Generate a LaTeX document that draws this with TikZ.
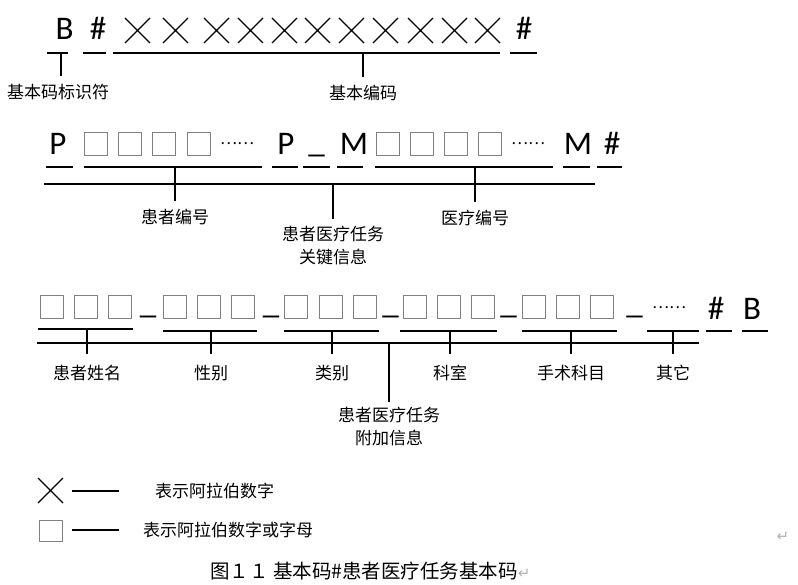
\documentclass[tikz,border=0pt]{standalone}
\usepackage{fontspec}
\setmainfont{Carlito}
\newfontfamily\cjk{Noto Sans CJK SC}
\newfontfamily\dejavu{DejaVu Sans}
\usetikzlibrary{calc,positioning}

\tikzset{
  lat/.style={font=\fontsize{33}{33}\selectfont,inner sep=0pt,anchor=base},
  lab/.style={font=\cjk\fontsize{17}{23}\selectfont,inner sep=0pt,align=center},
  dots/.style={font=\cjk\fontsize{16}{16}\selectfont,inner sep=0pt,anchor=west},
  cell/.style={draw=gray,line width=1pt},
  ul/.style={line width=1.8pt},
}

\begin{document}
\begin{tikzpicture}[x=1pt,y=-1pt,line join=round,line cap=butt]
\useasboundingbox (0,0) rectangle (798,585);
% row 1: basic code
\node[lat] (B1) at (64.5,40) {B};
\node[lat] (h1) at (98,40) {\#};
\node[lat] (h2) at (524,40) {\#};
\foreach \x in {125,163,204,238,272,305,339,373,408,442,475}{\draw[line width=1.2pt](\x,18)--++(25,25) (\x,43)--++(25,-25);}
\draw[ul](47,53)--(68,53) (83,53)--(106,53) (113,53)--(500,53) (510,53)--(537,53);
\coordinate (bt) at (61,53);
\coordinate (bb) at (61,76);
\coordinate (ct) at (363,53);
\coordinate (cb) at (363,77);
\draw[line width=1.4pt](bt)--(bb) (ct)--(cb);
\node[lab] (lb) at (58,92) {基本码标识符};
\node[lab] (lc) at (363,93) {基本编码};
% row 2: key information
\node[lat] (P1) at (58,155) {P};
\node[lat] (P2) at (286,155) {P};
\node[lat] (s0) at (316.5,153) {\_};
\node[lat] (M1) at (354,155) {M};
\node[lat] (M2) at (578,155) {M};
\node[lat] (h3) at (612,155) {\#};
\foreach \x in {84,118,152,187,376,410,444,478}{\draw[cell](\x,133) rectangle ++(23,23);}
\node[dots] (d1) at (220,144) {……};
\node[dots] (d2) at (511,144) {……};
\draw[ul](46,167)--(73,167) (84,167)--(262,167) (272,167)--(298,167) (303,167)--(330,167)
  (337,167)--(363,167) (375,167)--(553,167) (563,167)--(590,167) (597,167)--(622,167);
\draw[ul](44,184)--(595,184);
\foreach \n/\x/\a/\b/\y/\t in {p/175/167/201/217/患者编号,k/333/184/219/246/患者医疗任务\\关键信息,m/475/167/202/218/医疗编号}{
  \coordinate (\n t) at (\x,\a);
  \coordinate (\n b) at (\x,\b);
  \draw[line width=1.4pt](\n t)--(\n b);
  \node[lab] (l\n) at (\x,\y) {\t};}
% row 3: additional information
\foreach \x in {40,74,108,163,197,231,284,319,353,403,437,471,522,556,590}{\draw[cell](\x,296) rectangle ++(23,23);}
\foreach \x [count=\i] in {148,271,390.5,508.5,634.5}{\node[lat] (s\i) at (\x,314) {\_};}
\node[dots] (d3) at (652,308) {……};
\node[lat] (h4) at (716,320) {\#};
\node[lat] (B2) at (752,320) {B};
\draw[ul](38,329)--(133,329) (163,331)--(257,331) (284,331)--(379,331) (400,331)--(497,331)
  (522,331)--(617,331) (647,331)--(699,331) (706,331)--(732,331) (742,331)--(768,331);
\draw[ul](37,343)--(699,343);
\foreach \n/\x/\t in {a/87/患者姓名,b/211/性别,c/332/类别,d/450/科室,e/571/手术科目,f/673/其它}{
  \coordinate (\n t) at (\x,330);
  \coordinate (\n b) at (\x,354);
  \draw[line width=1.4pt](\n t)--(\n b);
  \node[lab] (l\n) at (\x,373) {\t};}
\coordinate (ft) at (389,343);
\coordinate (fb) at (389,402);
\draw[line width=1.4pt](ft)--(fb);
\node[lab] (lg) at (389,426.5) {患者医疗任务\\附加信息};
% legend
\draw[line width=1.2pt](38,478)--(63,503) (38,503)--(63,478);
\draw[cell](39,520) rectangle (62,541);
\coordinate (e1) at (72,491);
\coordinate (e2) at (119,491);
\coordinate (e3) at (72,530);
\coordinate (e4) at (119,530);
\draw[line width=1.2pt](e1)--(e2) (e3)--(e4);
\node[lab,anchor=west] (k1) at (155,491) {表示阿拉伯数字};
\node[lab,anchor=west] (k2) at (143,530) {表示阿拉伯数字或字母};
\node[font=\dejavu\fontsize{15}{15}\selectfont,text=gray!60,inner sep=0pt] (r1) at (783,537) {↵};
\node[font=\cjk\fontsize{19.5}{19.5}\selectfont,inner sep=0pt,anchor=west] (cap) at (210,571) {图１１ 基本码\#患者医疗任务基本码{\dejavu\fontsize{15}{15}\selectfont\color{gray!60}↵}};
\end{tikzpicture}
\end{document}
